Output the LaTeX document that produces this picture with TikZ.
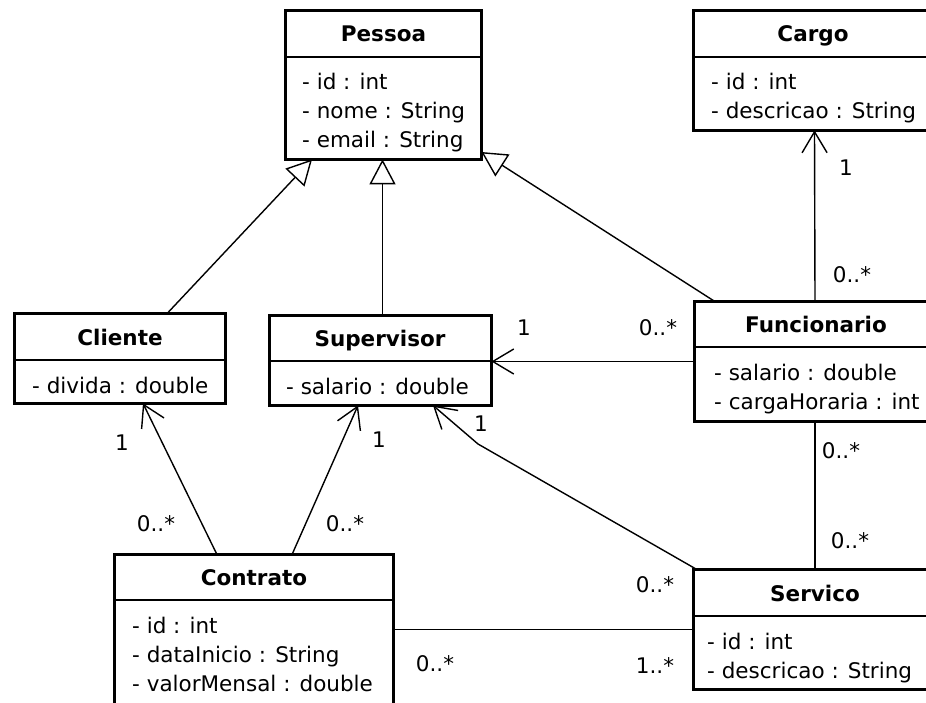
\documentclass[tikz,border=0pt]{standalone}
\usepackage{fontspec}
\setmainfont{DejaVu Sans}
\usetikzlibrary{arrows.meta}
\tikzset{
  cls/.style={draw, line width=3.2pt, rectangle, inner sep=0pt, outer sep=0pt, anchor=north west, fill=white},
  sepline/.style={line width=1.1pt},
  ttl/.style={font=\fontsize{21.5}{29}\selectfont\bfseries, anchor=base, inner sep=0pt},
  attr/.style={font=\fontsize{21.5}{29}\selectfont, anchor=base west, inner sep=0pt},
  mult/.style={font=\fontsize{21.5}{29}\selectfont, anchor=base, inner sep=0pt},
  conn/.style={line width=1.4pt},
  gen/.style={conn, -{Triangle[open, length=25pt, width=26pt, line width=1.4pt, fill=white]}},
  nav/.style={conn, -{Straight Barb[length=21pt, width=25pt, line width=1.4pt]}},
}
\begin{document}
\begin{tikzpicture}[x=1pt,y=-1pt]
\useasboundingbox (0,0) rectangle (926,703);
\fill[white] (0,0) rectangle (926,703);
\clip (0,0) rectangle (926,703);

% Pessoa
\node[cls, minimum width=195.8pt, minimum height=148.8pt] (pessoa) at (285.6,10.6) {};
\draw[sepline] (284,57) -- (483,57);
\node[ttl] (pessoaT) at (383.5,42) {Pessoa};
\node[attr] (pessoaA1) at (302,90) {- id : int};
\node[attr] (pessoaA2) at (302,119) {- nome : String};
\node[attr] (pessoaA3) at (302,148) {- email : String};

% Cargo
\node[cls, minimum width=241.8pt, minimum height=119.8pt] (cargo) at (693.6,10.6) {};
\draw[sepline] (692,57) -- (937,57);
\node[ttl] (cargoT) at (813,42) {Cargo};
\node[attr] (cargoA1) at (711,90) {- id : int};
\node[attr] (cargoA2) at (711,119) {- descricao : String};

% Cliente
\node[cls, minimum width=210.8pt, minimum height=89.8pt] (cliente) at (14.6,313.6) {};
\draw[sepline] (13,360) -- (227,360);
\node[ttl] (clienteT) at (120,345) {Cliente};
\node[attr] (clienteA1) at (32,393) {- divida : double};

% Supervisor
\node[cls, minimum width=221.8pt, minimum height=89.8pt] (supervisor) at (269.6,315.6) {};
\draw[sepline] (268,361) -- (493,361);
\node[ttl] (supervisorT) at (380,346) {Supervisor};
\node[attr] (supervisorA1) at (286,394) {- salario : double};

% Funcionario
\node[cls, minimum width=240.8pt, minimum height=119.8pt] (funcionario) at (694.6,301.6) {};
\draw[sepline] (693,347) -- (937,347);
\node[ttl] (funcionarioT) at (816,332) {Funcionario};
\node[attr] (funcionarioA1) at (714,380) {- salario : double};
\node[attr] (funcionarioA2) at (714,409) {- cargaHoraria : int};

% Contrato
\node[cls, minimum width=278.8pt, minimum height=149.8pt] (contrato) at (114.6,554.6) {};
\draw[sepline] (113,600) -- (395,600);
\node[ttl] (contratoT) at (254,585) {Contrato};
\node[attr] (contratoA1) at (132,633) {- id : int};
\node[attr] (contratoA2) at (132,662) {- dataInicio : String};
\node[attr] (contratoA3) at (132,691) {- valorMensal : double};

% Servico
\node[cls, minimum width=241.8pt, minimum height=119.8pt] (servico) at (693.6,569.6) {};
\draw[sepline] (692,616) -- (937,616);
\node[ttl] (servicoT) at (815,601) {Servico};
\node[attr] (servicoA1) at (707,649) {- id : int};
\node[attr] (servicoA2) at (707,678) {- descricao : String};

% Generalizations
\draw[gen] ([xshift=47pt]cliente.north) -- ([xshift=-71.5pt]pessoa.south);
\draw[gen] ([xshift=2pt]supervisor.north) -- ([xshift=-1pt]pessoa.south);
\draw[gen] ([xshift=-100pt]funcionario.north) -- ([yshift=-67pt]pessoa.east);

% Associations
\draw[nav] (funcionario.north) -- (cargo.south);
\node[mult] (m1) at (846,176) {1};
\node[mult] (m2) at (852,283) {0..*};

\draw[nav] (funcionario.west) -- (funcionario.west -| supervisor.east);
\node[mult] (m3) at (524,335) {1};
\node[mult] (m4) at (658,335) {0..*};

\draw[nav] ([xshift=-37pt]contrato.north) -- ([xshift=23pt]cliente.south);
\node[mult] (m5) at (122,450) {1};
\node[mult] (m6) at (156,531) {0..*};

\draw[nav] ([xshift=38pt]contrato.north) -- ([xshift=-22.5pt]supervisor.south);
\node[mult] (m7) at (379,447) {1};
\node[mult] (m8) at (345,531) {0..*};

\coordinate (bend) at (478,444);
\draw[nav] ([xshift=-117.5pt]servico.north) -- (bend) -- ([xshift=52.5pt]supervisor.south);
\node[mult] (m9) at (481,431) {1};
\node[mult] (m10) at (655,592) {0..*};

\draw[conn] (funcionario.south) -- (funcionario.south |- servico.north);
\node[mult] (m11) at (841,458) {0..*};
\node[mult] (m12) at (850,548) {0..*};

\draw[conn] (contrato.east) -- (servico.west);
\node[mult] (m13) at (435,671) {0..*};
\node[mult] (m14) at (655,673) {1..*};
\end{tikzpicture}
\end{document}
